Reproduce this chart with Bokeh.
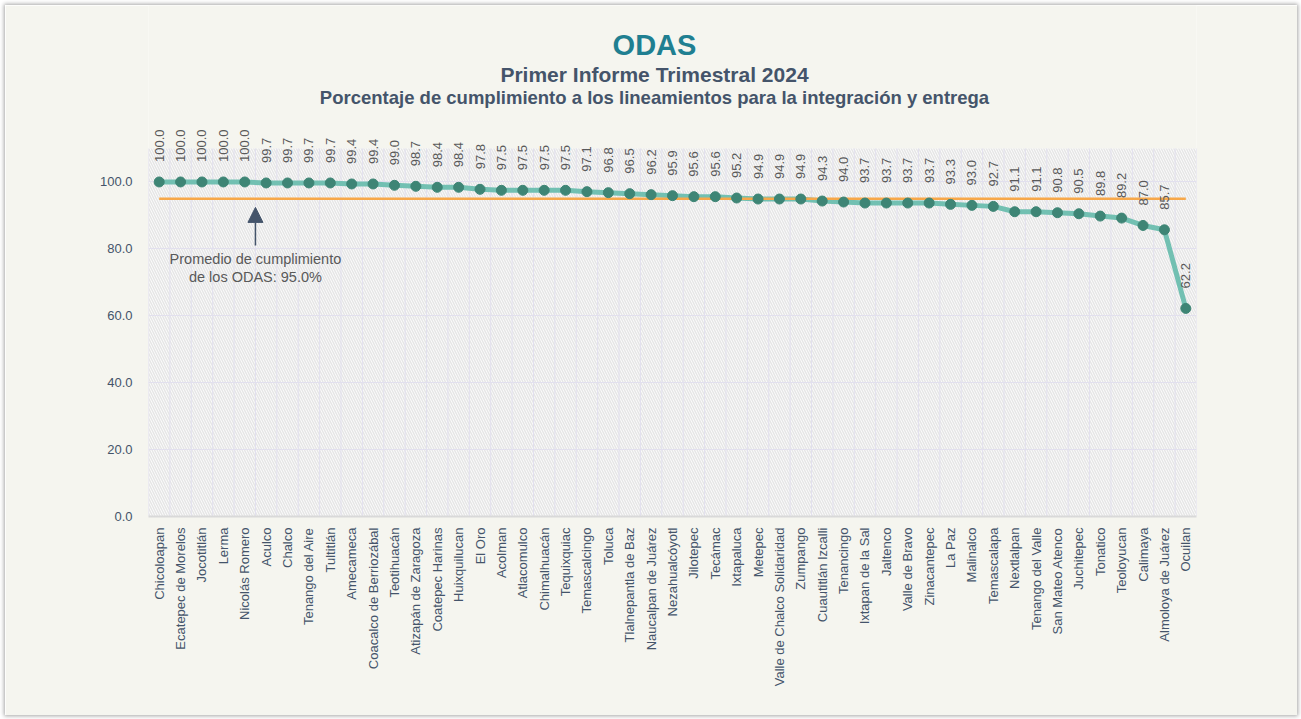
import math
from bokeh.plotting import figure
from bokeh.models import (ColumnDataSource, FactorRange, Range1d, FixedTicker,
                          NumeralTickFormatter, LabelSet, Label, Arrow, NormalHead,
                          BoxAnnotation)
from bokeh.core.properties import value
from bokeh.embed import file_html
from bokeh.resources import INLINE

# ---------------- data ----------------
municipios = [
    "Chicoloapan", "Ecatepec de Morelos", "Jocotitlán", "Lerma", "Nicolás Romero",
    "Aculco", "Chalco", "Tenango del Aire", "Tultitlán", "Amecameca",
    "Coacalco de Berriozábal", "Teotihuacán", "Atizapán de Zaragoza", "Coatepec Harinas",
    "Huixquilucan", "El Oro", "Acolman", "Atlacomulco", "Chimalhuacán", "Tequixquiac",
    "Temascalcingo", "Toluca", "Tlalnepantla de Baz", "Naucalpan de Juárez",
    "Nezahualcóyotl", "Jilotepec", "Tecámac", "Ixtapaluca", "Metepec",
    "Valle de Chalco Solidaridad", "Zumpango", "Cuautitlán Izcalli", "Tenancingo",
    "Ixtapan de la Sal", "Jaltenco", "Valle de Bravo", "Zinacantepec", "La Paz",
    "Malinalco", "Temascalapa", "Nextlalpan", "Tenango del Valle", "San Mateo Atenco",
    "Juchitepec", "Tonatico", "Teoloyucan", "Calimaya", "Almoloya de Juárez", "Ocuilan",
]
cumplimiento = [
    100.0, 100.0, 100.0, 100.0, 100.0,
    99.7, 99.7, 99.7, 99.7, 99.4,
    99.4, 99.0, 98.7, 98.4,
    98.4, 97.8, 97.5, 97.5, 97.5, 97.5,
    97.1, 96.8, 96.5, 96.2,
    95.9, 95.6, 95.6, 95.2, 94.9,
    94.9, 94.9, 94.3, 94.0,
    93.7, 93.7, 93.7, 93.7, 93.3,
    93.0, 92.7, 91.1, 91.1, 90.8,
    90.5, 89.8, 89.2, 87.0, 85.7, 62.2,
]
promedio = 95.0
y_ticks = [0, 20, 40, 60, 80, 100]
y_max = 110

titulo = "ODAS"
subtitulo = "Primer Informe Trimestral 2024"
descripcion = "Porcentaje de cumplimiento a los lineamientos para la integración y entrega"
nota = "Promedio de cumplimiento\nde los ODAS: 95.0%"

# ---------------- styling / layout ----------------
FONT = "Liberation Sans"
BG = "#f5f5ef"
TEAL_LINE = "#72c0b2"
TEAL_DOT = "#3e8575"
ORANGE = "#f7a84a"
AXIS_TXT = "#44546a"
VAL_TXT = "#595959"
GRID = "#e2e0ee"

W, H = 1292, 710
LEFT, RIGHT, BOTTOM = 143, 101, 199
PLOT_H = 368                      # pixel height of the hatched 0..110 area
frame_w = W - LEFT - RIGHT
frame_h = H - BOTTOM
px_per_unit = PLOT_H / y_max
y_top = frame_h / px_per_unit     # frame extends to top so labels/titles are not clipped
cat_w = frame_w / len(municipios)

source = ColumnDataSource(dict(
    m=municipios,
    v=cumplimiento,
    t=["%.1f" % c for c in cumplimiento],
))

p = figure(
    width=W, height=H,
    x_range=FactorRange(*municipios),
    y_range=Range1d(0, y_top),
    output_backend="svg", toolbar_location=None,
    min_border_left=LEFT, min_border_right=RIGHT,
    min_border_top=0, min_border_bottom=BOTTOM,
    background_fill_color=BG,
    border_fill_color=BG,
    outline_line_color=None,
)
p.margin = (5, 5, 5, 5)
p.styles = {"box-shadow": "0px 0px 4px 1px rgba(0,0,0,0.35)"}

# hatched plot background (0..110)
bg_box = BoxAnnotation(top=y_max, bottom=0, fill_color="#fdfdfd", fill_alpha=1.0,
                       line_color=None, hatch_pattern="\\", hatch_color="#e6e6e6",
                       hatch_weight=1.5, hatch_scale=5, level="image")
p.add_layout(bg_box)

# grids
p.xgrid.visible = False
bounds = list(range(len(municipios) + 1))
p.segment(x0=bounds, x1=bounds, y0=[0] * len(bounds), y1=[y_max] * len(bounds),
          line_color=GRID, line_width=1, level="underlay")
p.ygrid.grid_line_color = GRID
p.ygrid.grid_line_width = 1

# series
p.line(x="m", y="v", source=source, line_color=TEAL_LINE, line_width=5)
p.line(x=municipios, y=[promedio] * len(municipios), line_color=ORANGE, line_width=2.5)
p.scatter(x="m", y="v", source=source, size=10, fill_color=TEAL_DOT, line_color=TEAL_DOT)

labels = LabelSet(x="m", y="v", text="t", source=source, angle=math.pi / 2,
                  text_align="left", text_baseline="middle", y_offset=20,
                  text_font=value(FONT), text_font_size="13px", text_color=VAL_TXT)
p.add_layout(labels)

# axes
p.yaxis.ticker = FixedTicker(ticks=y_ticks)
p.yaxis.formatter = NumeralTickFormatter(format="0.0")
p.yaxis.axis_line_color = None
p.yaxis.major_tick_line_color = None
p.yaxis.minor_tick_line_color = None
p.yaxis.major_label_standoff = 10
p.yaxis.major_label_text_font = FONT
p.yaxis.major_label_text_font_size = "13px"
p.yaxis.major_label_text_color = AXIS_TXT

p.xaxis.major_label_orientation = math.pi / 2
p.xaxis.axis_line_color = "#d9d9d9"
p.xaxis.axis_line_width = 2
p.xaxis.major_tick_line_color = None
p.xaxis.minor_tick_line_color = None
p.xaxis.major_label_standoff = 5
p.xaxis.major_label_text_font = FONT
p.xaxis.major_label_text_font_size = "13px"
p.xaxis.major_label_text_color = AXIS_TXT

# titles (data units; positioned from pixel offsets above the 0 line)
title_x = 506 / cat_w
p.add_layout(Label(x=title_x, y=472 / px_per_unit, text=titulo,
                   text_align="center", text_baseline="alphabetic", text_font=FONT,
                   text_font_size="29px", text_font_style="bold", text_color="#1f7f91"))
p.add_layout(Label(x=title_x, y=442 / px_per_unit, text=subtitulo,
                   text_align="center", text_baseline="alphabetic", text_font=FONT,
                   text_font_size="21px", text_font_style="bold", text_color=AXIS_TXT))
p.add_layout(Label(x=title_x, y=419.5 / px_per_unit, text=descripcion,
                   text_align="center", text_baseline="alphabetic", text_font=FONT,
                   text_font_size="18.5px", text_font_style="bold", text_color=AXIS_TXT))

# average annotation
arrow_x = float(municipios.index("Aculco"))
p.add_layout(Arrow(x_start=arrow_x, y_start=81.0, x_end=arrow_x, y_end=92.4,
                   line_color=AXIS_TXT, line_width=1.5,
                   end=NormalHead(size=15, fill_color=AXIS_TXT, line_color=AXIS_TXT)))
p.add_layout(Label(x=arrow_x, y=79.5, text=nota, text_align="center",
                   text_baseline="top", text_font=FONT, text_font_size="14.5px",
                   text_color=VAL_TXT, text_line_height=1.15))

open("out.html", "w").write(file_html(p, INLINE))
